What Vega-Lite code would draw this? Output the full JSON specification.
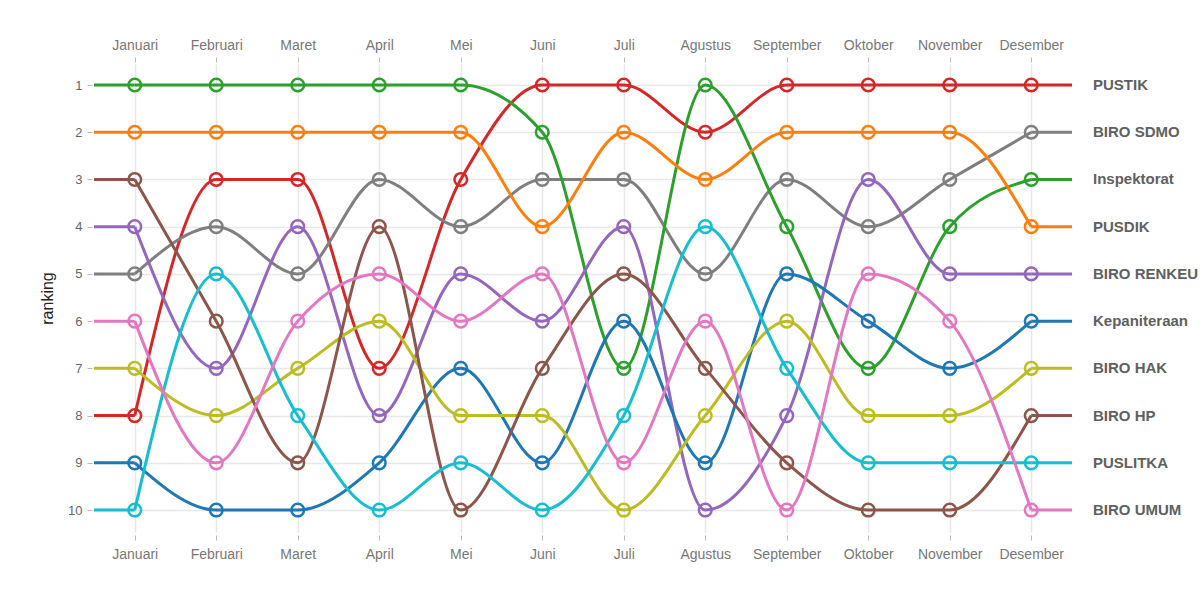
{
  "$schema": "https://vega.github.io/schema/vega-lite/v6.json",
  "width": 978,
  "height": 468,
  "autosize": {"type": "none"},
  "padding": {"left": 94, "top": 64, "right": 129, "bottom": 65},
  "background": "white",
  "config": {
    "view": {"stroke": null},
    "font": "Liberation Sans"
  },
  "data": {"values": [
    {"s":"PUSTIK","m":1,"r":8},{"s":"PUSTIK","m":2,"r":3},{"s":"PUSTIK","m":3,"r":3},{"s":"PUSTIK","m":4,"r":7},{"s":"PUSTIK","m":5,"r":3},{"s":"PUSTIK","m":6,"r":1},{"s":"PUSTIK","m":7,"r":1},{"s":"PUSTIK","m":8,"r":2},{"s":"PUSTIK","m":9,"r":1},{"s":"PUSTIK","m":10,"r":1},{"s":"PUSTIK","m":11,"r":1},{"s":"PUSTIK","m":12,"r":1},
    {"s":"BIRO SDMO","m":1,"r":5},{"s":"BIRO SDMO","m":2,"r":4},{"s":"BIRO SDMO","m":3,"r":5},{"s":"BIRO SDMO","m":4,"r":3},{"s":"BIRO SDMO","m":5,"r":4},{"s":"BIRO SDMO","m":6,"r":3},{"s":"BIRO SDMO","m":7,"r":3},{"s":"BIRO SDMO","m":8,"r":5},{"s":"BIRO SDMO","m":9,"r":3},{"s":"BIRO SDMO","m":10,"r":4},{"s":"BIRO SDMO","m":11,"r":3},{"s":"BIRO SDMO","m":12,"r":2},
    {"s":"Inspektorat","m":1,"r":1},{"s":"Inspektorat","m":2,"r":1},{"s":"Inspektorat","m":3,"r":1},{"s":"Inspektorat","m":4,"r":1},{"s":"Inspektorat","m":5,"r":1},{"s":"Inspektorat","m":6,"r":2},{"s":"Inspektorat","m":7,"r":7},{"s":"Inspektorat","m":8,"r":1},{"s":"Inspektorat","m":9,"r":4},{"s":"Inspektorat","m":10,"r":7},{"s":"Inspektorat","m":11,"r":4},{"s":"Inspektorat","m":12,"r":3},
    {"s":"PUSDIK","m":1,"r":2},{"s":"PUSDIK","m":2,"r":2},{"s":"PUSDIK","m":3,"r":2},{"s":"PUSDIK","m":4,"r":2},{"s":"PUSDIK","m":5,"r":2},{"s":"PUSDIK","m":6,"r":4},{"s":"PUSDIK","m":7,"r":2},{"s":"PUSDIK","m":8,"r":3},{"s":"PUSDIK","m":9,"r":2},{"s":"PUSDIK","m":10,"r":2},{"s":"PUSDIK","m":11,"r":2},{"s":"PUSDIK","m":12,"r":4},
    {"s":"BIRO RENKEU","m":1,"r":4},{"s":"BIRO RENKEU","m":2,"r":7},{"s":"BIRO RENKEU","m":3,"r":4},{"s":"BIRO RENKEU","m":4,"r":8},{"s":"BIRO RENKEU","m":5,"r":5},{"s":"BIRO RENKEU","m":6,"r":6},{"s":"BIRO RENKEU","m":7,"r":4},{"s":"BIRO RENKEU","m":8,"r":10},{"s":"BIRO RENKEU","m":9,"r":8},{"s":"BIRO RENKEU","m":10,"r":3},{"s":"BIRO RENKEU","m":11,"r":5},{"s":"BIRO RENKEU","m":12,"r":5},
    {"s":"Kepaniteraan","m":1,"r":9},{"s":"Kepaniteraan","m":2,"r":10},{"s":"Kepaniteraan","m":3,"r":10},{"s":"Kepaniteraan","m":4,"r":9},{"s":"Kepaniteraan","m":5,"r":7},{"s":"Kepaniteraan","m":6,"r":9},{"s":"Kepaniteraan","m":7,"r":6},{"s":"Kepaniteraan","m":8,"r":9},{"s":"Kepaniteraan","m":9,"r":5},{"s":"Kepaniteraan","m":10,"r":6},{"s":"Kepaniteraan","m":11,"r":7},{"s":"Kepaniteraan","m":12,"r":6},
    {"s":"BIRO HAK","m":1,"r":7},{"s":"BIRO HAK","m":2,"r":8},{"s":"BIRO HAK","m":3,"r":7},{"s":"BIRO HAK","m":4,"r":6},{"s":"BIRO HAK","m":5,"r":8},{"s":"BIRO HAK","m":6,"r":8},{"s":"BIRO HAK","m":7,"r":10},{"s":"BIRO HAK","m":8,"r":8},{"s":"BIRO HAK","m":9,"r":6},{"s":"BIRO HAK","m":10,"r":8},{"s":"BIRO HAK","m":11,"r":8},{"s":"BIRO HAK","m":12,"r":7},
    {"s":"BIRO HP","m":1,"r":3},{"s":"BIRO HP","m":2,"r":6},{"s":"BIRO HP","m":3,"r":9},{"s":"BIRO HP","m":4,"r":4},{"s":"BIRO HP","m":5,"r":10},{"s":"BIRO HP","m":6,"r":7},{"s":"BIRO HP","m":7,"r":5},{"s":"BIRO HP","m":8,"r":7},{"s":"BIRO HP","m":9,"r":9},{"s":"BIRO HP","m":10,"r":10},{"s":"BIRO HP","m":11,"r":10},{"s":"BIRO HP","m":12,"r":8},
    {"s":"PUSLITKA","m":1,"r":10},{"s":"PUSLITKA","m":2,"r":5},{"s":"PUSLITKA","m":3,"r":8},{"s":"PUSLITKA","m":4,"r":10},{"s":"PUSLITKA","m":5,"r":9},{"s":"PUSLITKA","m":6,"r":10},{"s":"PUSLITKA","m":7,"r":8},{"s":"PUSLITKA","m":8,"r":4},{"s":"PUSLITKA","m":9,"r":7},{"s":"PUSLITKA","m":10,"r":9},{"s":"PUSLITKA","m":11,"r":9},{"s":"PUSLITKA","m":12,"r":9},
    {"s":"BIRO UMUM","m":1,"r":6},{"s":"BIRO UMUM","m":2,"r":9},{"s":"BIRO UMUM","m":3,"r":6},{"s":"BIRO UMUM","m":4,"r":5},{"s":"BIRO UMUM","m":5,"r":6},{"s":"BIRO UMUM","m":6,"r":5},{"s":"BIRO UMUM","m":7,"r":9},{"s":"BIRO UMUM","m":8,"r":6},{"s":"BIRO UMUM","m":9,"r":10},{"s":"BIRO UMUM","m":10,"r":5},{"s":"BIRO UMUM","m":11,"r":6},{"s":"BIRO UMUM","m":12,"r":10}
  ]},
  "encoding": {
    "y": {
      "field": "r", "type": "quantitative",
      "scale": {"domain": [0.555, 10.465], "reverse": true, "nice": false, "zero": false},
      "axis": {
        "values": [1,2,3,4,5,6,7,8,9,10],
        "title": "ranking", "titleFontSize": 16, "titleColor": "#222", "titleFontWeight": "normal", "titlePadding": 12,
        "labelFontSize": 13, "labelColor": "#666", "labelPadding": 5,
        "tickColor": "#bbb", "tickSize": 5, "offset": 2,
        "domain": false, "grid": true, "gridColor": "#e8e8e8", "gridWidth": 1.5
      }
    },
    "color": {
      "field": "s", "type": "nominal", "legend": null,
      "scale": {
        "domain": ["PUSTIK","BIRO SDMO","Inspektorat","PUSDIK","BIRO RENKEU","Kepaniteraan","BIRO HAK","BIRO HP","PUSLITKA","BIRO UMUM"],
        "range": ["#d62728","#7f7f7f","#2ca02c","#ff7f0e","#9467bd","#1f77b4","#bcbd22","#8c564b","#17becf","#e377c2"]
      }
    }
  },
  "resolve": {"axis": {"x": "independent"}},
  "layer": [
    {
      "transform": [{"filter": "datum.m == 1"}],
      "mark": {"type": "rule", "strokeWidth": 3},
      "encoding": {
        "x": {"field": "m", "type": "quantitative", "scale": {"domain": [0.5, 12.5], "nice": false, "zero": false}, "axis": null},
        "x2": {"datum": 0.5}
      }
    },
    {
      "transform": [{"filter": "datum.m == 12"}],
      "mark": {"type": "rule", "strokeWidth": 3},
      "encoding": {
        "x": {"field": "m", "type": "quantitative", "scale": {"domain": [0.5, 12.5], "nice": false, "zero": false}, "axis": null},
        "x2": {"datum": 12.5}
      }
    },
    {
      "mark": {"type": "line", "interpolate": "monotone", "strokeWidth": 3},
      "encoding": {
        "x": {
          "field": "m", "type": "quantitative",
          "scale": {"domain": [0.5, 12.5], "nice": false, "zero": false},
          "axis": {
            "orient": "bottom", "values": [1,2,3,4,5,6,7,8,9,10,11,12], "title": null,
            "labelExpr": "['Januari','Februari','Maret','April','Mei','Juni','Juli','Agustus','September','Oktober','November','Desember'][datum.value - 1]",
            "labelFontSize": 14, "labelColor": "#777", "labelPadding": 7,
            "tickColor": "#bbb", "tickSize": 5, "offset": 3,
            "domain": false, "grid": true, "gridColor": "#e8e8e8", "gridWidth": 1.5
          }
        },
        "detail": {"field": "s"}
      }
    },
    {
      "mark": {"type": "point", "shape": "circle", "filled": false, "size": 160, "strokeWidth": 2.5, "opacity": 1},
      "encoding": {
        "x": {
          "field": "m", "type": "quantitative",
          "scale": {"domain": [0.5, 12.5], "nice": false, "zero": false},
          "axis": {
            "orient": "top", "values": [1,2,3,4,5,6,7,8,9,10,11,12], "title": null,
            "labelExpr": "['Januari','Februari','Maret','April','Mei','Juni','Juli','Agustus','September','Oktober','November','Desember'][datum.value - 1]",
            "labelFontSize": 14, "labelColor": "#777", "labelPadding": 5,
            "tickColor": "#bbb", "tickSize": 5, "offset": 2,
            "domain": false, "grid": false
          }
        }
      }
    },
    {
      "transform": [{"filter": "datum.m == 12"}],
      "mark": {"type": "text", "align": "left", "baseline": "middle", "dx": 21, "fontSize": 15, "fontWeight": "bold", "color": "#606060"},
      "encoding": {
        "x": {"datum": 12.5, "type": "quantitative", "axis": null},
        "text": {"field": "s"},
        "color": {"value": "#606060"}
      }
    }
  ]
}
